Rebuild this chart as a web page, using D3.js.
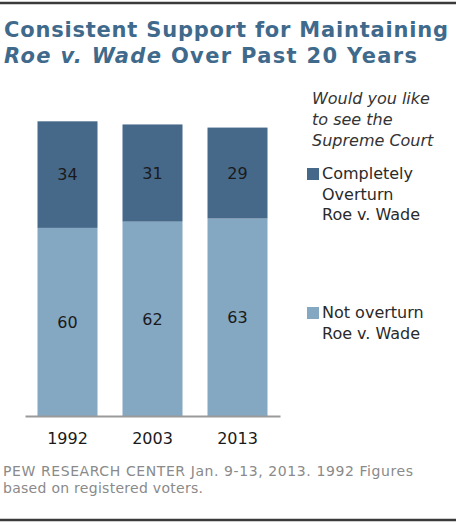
<!DOCTYPE html>
<html>
<head>
<meta charset="utf-8">
<script src="https://cdn.jsdelivr.net/npm/d3@7"></script>
<style>
  body { margin: 0; background: #fff; }
  svg { display: block; font-family: "DejaVu Sans", Verdana, sans-serif; }
</style>
</head>
<body>
<svg id="chart" width="456" height="525"></svg>
<script>
// Data
var years = ["1992", "2003", "2013"];
var notOverturn = [60, 62, 63];
var overturn = [34, 31, 29];
var seriesNames = ["Not overturn", "Completely Overturn"];
var colors = ["#84a7c2", "#46698a"];

var svg = d3.select("#chart");

// top and bottom rules
svg.append("line").attr("x1", 0).attr("x2", 456).attr("y1", 3).attr("y2", 3)
    .attr("stroke", "#3a3a3a").attr("stroke-width", 2.5);
svg.append("line").attr("x1", 0).attr("x2", 456).attr("y1", 520).attr("y2", 520)
    .attr("stroke", "#3a3a3a").attr("stroke-width", 2.5);

// title (Verdana in the original is wider, so stretch to its width)
svg.append("text").attr("x", 4).attr("y", 37)
    .attr("fill", "#3f6a8c").attr("font-weight", "bold").attr("font-size", 21)
    .attr("textLength", 444).attr("lengthAdjust", "spacing")
    .text("Consistent Support for Maintaining");
var t2 = svg.append("text").attr("x", 4).attr("y", 63)
    .attr("fill", "#3f6a8c").attr("font-weight", "bold").attr("font-size", 21)
    .attr("textLength", 413).attr("lengthAdjust", "spacing");
t2.append("tspan").attr("font-style", "italic").text("Roe v. Wade");
t2.append("tspan").text(" Over Past 20 Years");

// stack the two series
var rows = years.map(function (y, i) {
    return { year: y, "Not overturn": notOverturn[i], "Completely Overturn": overturn[i] };
});
var stacked = d3.stack().keys(seriesNames)(rows);

var x = d3.scaleBand().domain(years).range([25, 280]).paddingInner(0.294).paddingOuter(0.147);
var y = d3.scaleLinear().domain([0, 100]).range([416, 102.5]);

var g = svg.append("g");
var layer = g.selectAll("g.layer").data(stacked).enter().append("g")
    .attr("class", "layer")
    .attr("fill", function (d, i) { return colors[i]; });

layer.selectAll("rect").data(function (d) { return d; }).enter().append("rect")
    .attr("x", function (d) { return x(d.data.year); })
    .attr("width", x.bandwidth())
    .attr("y", function (d) { return y(d[1]); })
    .attr("height", function (d) { return y(d[0]) - y(d[1]); });

// value labels, centred in each segment
layer.selectAll("text").data(function (d) { return d; }).enter().append("text")
    .attr("x", function (d) { return x(d.data.year) + x.bandwidth() / 2; })
    .attr("y", function (d) { return (y(d[0]) + y(d[1])) / 2; })
    .attr("dy", "0.36em")
    .attr("text-anchor", "middle")
    .attr("fill", "#1a1a1a")
    .attr("font-size", 16)
    .text(function (d) { return d[1] - d[0]; });

// x axis
var xAxis = svg.append("g").attr("transform", "translate(0,416)")
    .call(d3.axisBottom(x).tickSize(0).tickSizeOuter(0).tickPadding(17));
xAxis.select(".domain").attr("stroke", "#9a9a9a").attr("stroke-width", 2);
xAxis.selectAll("text").attr("font-size", 16).attr("fill", "#1a1a1a")
    .attr("font-family", "DejaVu Sans, Verdana, sans-serif");

// legend
var q = svg.append("text").attr("font-style", "italic").attr("font-size", 16).attr("fill", "#333");
["Would you like", "to see the", "Supreme Court"].forEach(function (s, i) {
    q.append("tspan").attr("x", 312).attr("y", 104 + i * 21).text(s);
});

var legendItems = [
    { color: colors[1], lines: ["Completely", "Overturn", "Roe v. Wade"], y: 179 },
    { color: colors[0], lines: ["Not overturn", "Roe v. Wade"], y: 318 }
];
legendItems.forEach(function (item) {
    svg.append("rect").attr("x", 307).attr("y", item.y - 11).attr("width", 12).attr("height", 12)
        .attr("fill", item.color);
    var t = svg.append("text").attr("font-size", 16).attr("fill", "#2a2a2a");
    item.lines.forEach(function (s, i) {
        t.append("tspan").attr("x", 322).attr("y", item.y + i * 20.5).text(s);
    });
});

// source note
svg.append("text").attr("x", 3).attr("y", 476).attr("font-size", 14).attr("fill", "#8a8a8a")
    .attr("textLength", 410).attr("lengthAdjust", "spacing")
    .text("PEW RESEARCH CENTER Jan. 9-13, 2013. 1992 Figures");
svg.append("text").attr("x", 3).attr("y", 493).attr("font-size", 14).attr("fill", "#8a8a8a")
    .attr("textLength", 200).attr("lengthAdjust", "spacing")
    .text("based on registered voters.");
</script>
</body>
</html>
